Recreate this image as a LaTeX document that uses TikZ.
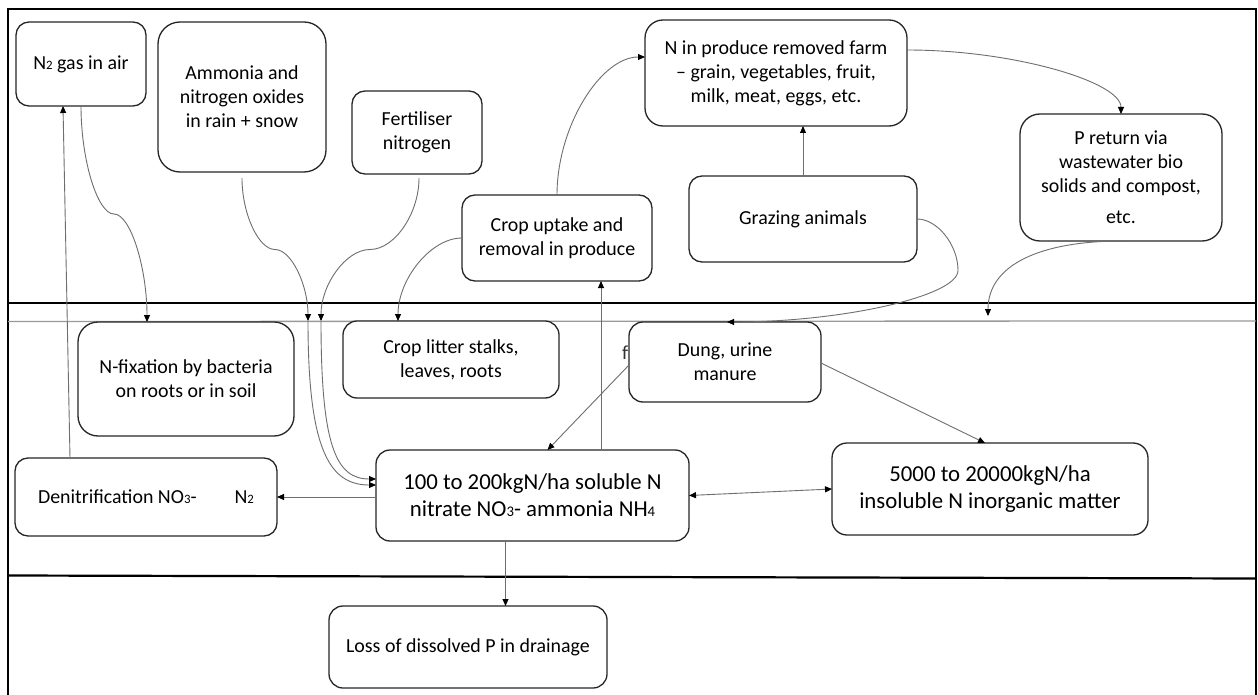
\documentclass[tikz,border=0pt]{standalone}
\usepackage{fontspec}
\setmainfont{Carlito}
\usetikzlibrary{arrows.meta,calc}
% small digits used as chemical indices
\newcommand\dsm[1]{{\fontsize{12.8pt}{12.8pt}\selectfont #1}}
\newcommand\dlg[1]{{\fontsize{14.7pt}{14.7pt}\selectfont #1}}
\definecolor{boxline}{HTML}{262626}
\definecolor{conline}{HTML}{6E6E6E}
\begin{document}
\begin{tikzpicture}[x=1pt,y=-1pt,
  box/.style={draw=boxline, line width=1.3pt, fill=white, rounded corners=#1,
    align=center, inner sep=0pt, outer sep=0pt, text=black,
    font=\fontsize{19.9pt}{24pt}\selectfont},
  box/.default=13pt,
  bigtext/.style={font=\fontsize{22.8pt}{27pt}\selectfont},
  conn/.style={draw=conline, line width=0.9pt,
    -{Triangle[length=7pt,width=6pt,color=black]}},
  % S-shaped connector: two cubic pieces meeting half way
  scurve/.style={to path={let \p1=(\tikztostart), \p2=(\tikztotarget) in
    .. controls (\x1,{(3*\y1+\y2)/4}) and ({(3*\x1+\x2)/4},{(\y1+\y2)/2})
    .. ({(\x1+\x2)/2},{(\y1+\y2)/2})
    .. controls ({(\x1+3*\x2)/4},{(\y1+\y2)/2}) and (\x2,{(\y1+3*\y2)/4})
    .. (\x2,\y2) \tikztonodes}},
  ]
\useasboundingbox (0,0) rectangle (1258,695);
\fill[white] (0,0) rectangle (1258,695);

% frame and soil layer boundaries
\draw[line width=1.3pt, black] (8,695) -- (8,9) -- (1256,9) -- (1256,695);
\draw[line width=2.2pt, black] (8,303) -- (1256,303);
\draw[line width=1.3pt, black!40] (8,321.5) -- (1256,321);
\draw[line width=2.2pt, black] (8,575.5) -- (1256,578.5);

% stray letter partly hidden by the manure box
\node[anchor=base west, inner sep=0pt, font=\fontsize{19.9pt}{24pt}\selectfont, text=black!80] (stray) at (622,359) {f};

% above ground
\node[box, minimum width=130pt, minimum height=84pt] (n2) at (81,64) {N\dsm{2} gas in air};
\node[box=22pt, minimum width=168pt, minimum height=150pt] (amm) at (242,97)
  {Ammonia and\\nitrogen oxides\\in rain + snow};
\node[box, minimum width=130pt, minimum height=83pt] (fert) at (417,132.5) {Fertiliser\\nitrogen};
\node[box, minimum width=190pt, minimum height=86pt] (crop) at (557,238)
  {Crop uptake and\\removal in produce};
\node[box=18pt, minimum width=262pt, minimum height=106pt] (prod) at (776,73)
  {N in produce removed farm\\– grain, vegetables, fruit,\\milk, meat, eggs, etc.};
\node[box, minimum width=228pt, minimum height=86pt] (graze) at (803,219) {Grazing animals};
\node[box=20pt, minimum width=202pt, minimum height=127pt] (pret) at (1121,177.5)
  {P return via\\wastewater bio\\solids and compost,\\[7pt]etc.};

% topsoil
\node[box=20pt, minimum width=216pt, minimum height=114pt] (nfix) at (186,379)
  {N-fixation by bacteria\\on roots or in soil};
\node[box=14pt, minimum width=216pt, minimum height=77pt] (litter) at (451,359.5)
  {Crop litter stalks,\\leaves, roots};
\node[box=14pt, minimum width=192pt, minimum height=80pt] (dung) at (725,362) {Dung, urine\\manure};
\node[box, minimum width=262pt, minimum height=78pt] (denit) at (146,497)
  {Denitrification NO\dsm{3}-\hspace{38pt}N\dsm{2}};
\node[box=14pt, bigtext, minimum width=313pt, minimum height=91pt] (sol) at (532.5,495.5)
  {100 to 200kgN/ha soluble N\\nitrate NO\dlg{3}- ammonia NH\dlg{4}};
\node[box=15pt, bigtext, minimum width=316pt, minimum height=92pt] (ins) at (990,489)
  {5000 to 20000kgN/ha\\insoluble N inorganic matter};

% subsoil
\node[box=14pt, minimum width=278pt, minimum height=82pt] (loss) at (468,647)
  {Loss of dissolved P in drainage};

% junction points on the soil surface
\coordinate (jA) at (308,321);
\coordinate (jB) at (321,321);
\coordinate (pdrop) at (988,316);
\coordinate (gbend) at (958,270.5);

% connectors
\draw[conn] ([xshift=-76pt]denit.north) -- ([xshift=-18pt]n2.south);
\draw[conn] (n2.south) to[scurve] ([xshift=-39pt]nfix.north);
\draw[conn] ([yshift=-6pt]amm.south) to[scurve] (jA);
\draw[conn] ([xshift=2pt,yshift=-4pt]fert.south) to[scurve] (jB);
\draw[conn] (jA) .. controls +(0,130) and +(-46,0) .. ([yshift=10.5pt]sol.west);
\draw[conn] (jB) .. controls +(0,125) and +(-40,0) .. ([yshift=16.5pt]sol.west);
\draw[conn] (crop.west) .. controls +(-31.5,0) and +(0,-41.5) .. ([xshift=-53pt]litter.north);
\draw[conn] (crop.north) .. controls +(0,-69) and +(-44,0) .. ([yshift=16pt]prod.west);
\draw[conn] (graze.north) -- (graze.north |- prod.south);
\draw[conn] ([yshift=23pt]prod.east) .. controls +(107,0) and +(0,-32) .. (pret.north);
\draw[conn] (graze.east) .. controls +(20.5,0) and +(0,-25.5) .. (gbend)
  .. controls +(0,25.5) and +(115.5,0) .. ([xshift=2pt]dung.north);
\draw[conn] ([xshift=1pt]pret.south) .. controls +(-82,0) and +(0,-51) .. (pdrop);
\draw[conn] ([yshift=-3pt]dung.west) -- ([xshift=15pt]sol.north);
\draw[conn] ([yshift=-1pt]dung.east) -- ([xshift=-5pt]ins.north);
\draw[conn, {Triangle[length=7pt,width=6pt,color=black]}-{Triangle[length=7pt,width=6pt,color=black]}]
  (sol.east) -- (ins.west);
\draw[conn] (denit.east -| sol.west) -- (denit.east);
\draw[conn] ([xshift=68.5pt]sol.north) -- ([xshift=68.5pt]sol.north |- crop.south);
\draw[conn] ([xshift=-27pt]sol.south) -- ([xshift=-27pt]sol.south |- loss.north);
\end{tikzpicture}
\end{document}
